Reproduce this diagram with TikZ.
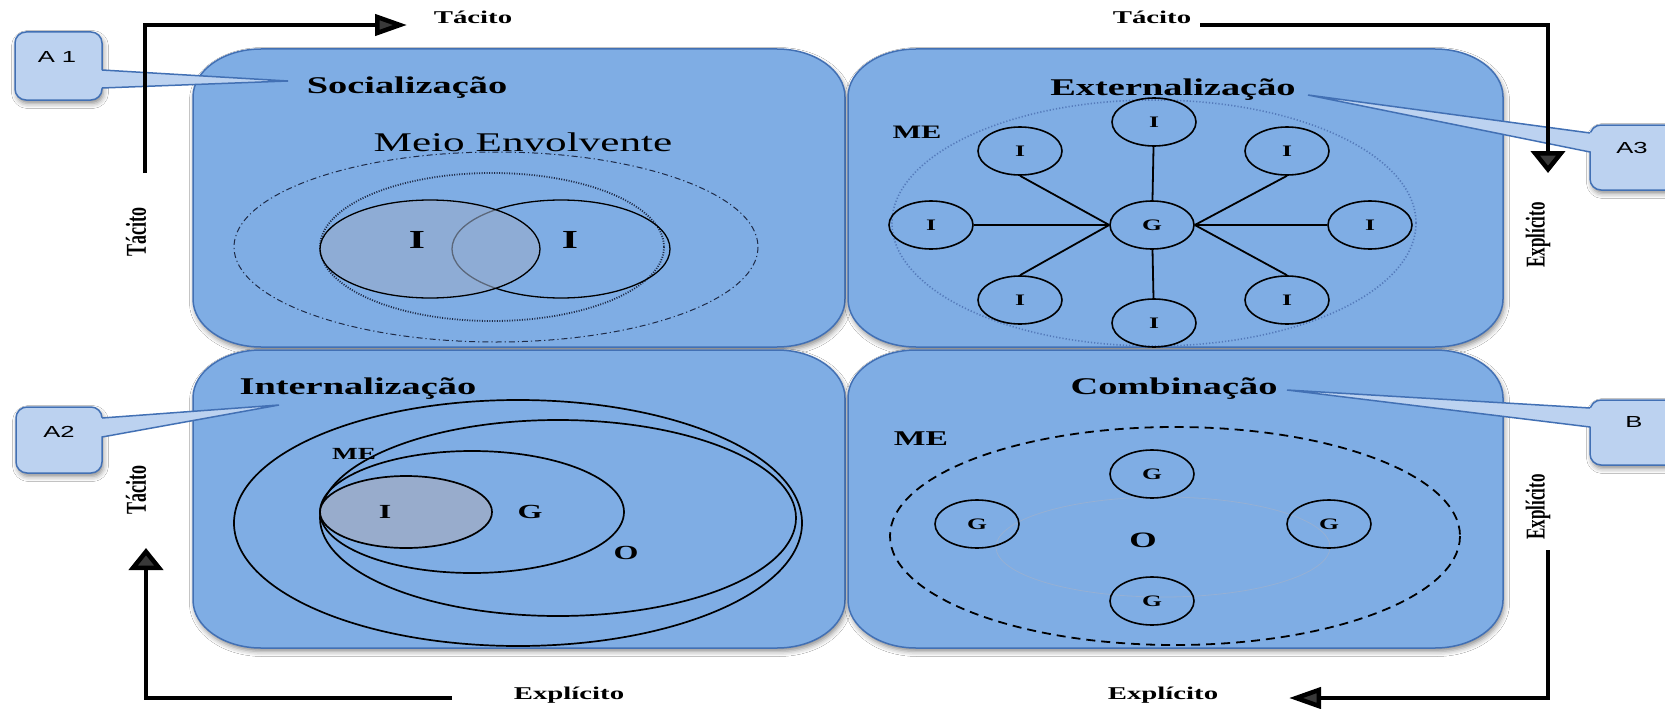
\documentclass[tikz,border=0pt]{standalone}
\usepackage{fontspec}
\setmainfont{Liberation Serif}
\newfontfamily\calloutfont{Liberation Sans}
\usepackage{graphicx}
\usetikzlibrary{arrows.meta,shapes.geometric,shadows.blur}

\definecolor{panelfill}{RGB}{127,173,228}
\definecolor{panelline}{RGB}{66,112,180}
\definecolor{calloutfill}{RGB}{188,210,240}
\definecolor{igray}{RGB}{152,172,204}
\definecolor{medot}{RGB}{84,122,186}
\definecolor{oline}{RGB}{150,176,212}
\definecolor{navy}{RGB}{30,42,70}

% horizontally widened text
\newcommand\sx[1]{\scalebox{1.6}[1]{#1}}
\newcommand\fsz[1]{\fontsize{#1}{#1}\selectfont}
% rounded quadrant with elliptic corners
\newcommand\rx{68}
\newcommand\ry{48}
\newcommand\panel[4]{%
  \path[panel,pshadow] (#1,#2+\ry)
    arc[start angle=180,end angle=270,x radius=\rx,y radius=\ry] -- (#3-\rx,#2)
    arc[start angle=270,end angle=360,x radius=\rx,y radius=\ry] -- (#3,#4-\ry)
    arc[start angle=0,end angle=90,x radius=\rx,y radius=\ry] -- (#1+\rx,#4)
    arc[start angle=90,end angle=180,x radius=\rx,y radius=\ry] -- cycle;}

\begin{document}
\begin{tikzpicture}[x=1pt,y=-1pt,
  panel/.style={fill=panelfill,draw=panelline,line width=1.5pt},
  pshadow/.style={blur shadow={shadow xshift=1.5pt,shadow yshift=-3.5pt,shadow blur radius=5pt,shadow opacity=45}},
  callout/.style={fill=calloutfill,draw=panelline,line width=1.5pt,rounded corners=11pt},
  wedge/.style={fill=calloutfill},
  wedgeline/.style={draw=panelline,line width=1.5pt},
  flowline/.style={line width=4.5pt,line join=miter},
  hhead/.style={-{Triangle[length=32pt,width=21pt]}},
  vhead/.style={-{Triangle[length=22pt,width=34pt]}},
  title/.style={font=\fsz{24}\bfseries,inner sep=0pt},
  axislabel/.style={font=\fsz{18}\bfseries,inner sep=0pt},
  calltext/.style={font=\calloutfont\fsz{16},inner sep=0pt,text=black},
  lbl/.style={font=\bfseries,inner sep=0pt},
  smallc/.style={draw=black,ellipse,line width=1.6pt,minimum width=84pt,minimum height=48pt,inner sep=0pt,font=\fsz{16}\bfseries},
  spoke/.style={line width=1.8pt},
  ring/.style={draw=black,line width=1.7pt}
]
\useasboundingbox (0,0) rectangle (1665,709);
\fill[white] (0,0) rectangle (1665,709);
\clip (0,0) rectangle (1665,709);

% the four quadrants
\panel{193}{49}{845}{347}
\panel{848}{49}{1503}{347}
\panel{193}{350}{845}{648}
\panel{848}{350}{1503}{648}

% ---- Socialização
\draw[navy,line width=1pt,dash pattern=on 6pt off 3pt on 1.2pt off 3pt] (496,247) ellipse [x radius=262,y radius=95];
\draw[navy,line width=1.8pt,dash pattern=on 1pt off 1.5pt] (492,247) ellipse [x radius=172,y radius=74];
\draw[black,line width=1.3pt] (561,249) ellipse [x radius=109,y radius=49];
\draw[black,line width=1.3pt,fill=igray,fill opacity=0.6] (430,249) ellipse [x radius=110,y radius=49];
\node[font=\fsz{27},inner sep=0pt,text=black] (meio) at (523,142) {\sx{Meio Envolvente}};
\node[lbl,font=\fsz{26}\bfseries] (si1) at (417,240) {\sx{I}};
\node[lbl,font=\fsz{26}\bfseries] (si2) at (570,240) {\sx{I}};

% ---- Externalização
\draw[medot,line width=1.6pt,dash pattern=on 1.2pt off 2pt] (1154,223) ellipse [x radius=262,y radius=123];
\node[lbl,font=\fsz{19}\bfseries] (eme) at (917,132) {\sx{ME}};
\node[smallc] (eg) at (1152,225) {\sx{G}};
\node[smallc] (eit) at (1154,122) {\sx{I}};
\node[smallc] (eitl) at (1020,151) {\sx{I}};
\node[smallc] (eitr) at (1287,151) {\sx{I}};
\node[smallc] (eil) at (931,225) {\sx{I}};
\node[smallc] (eir) at (1370,225) {\sx{I}};
\node[smallc] (eibl) at (1020,300) {\sx{I}};
\node[smallc] (eibr) at (1287,300) {\sx{I}};
\node[smallc] (eib) at (1154,323) {\sx{I}};
\draw[spoke] (eit) -- (eg);
\draw[spoke] (eg) -- (eib);
\draw[spoke] (eil) -- (eg.west);
\draw[spoke] (eg.west) -- (eitl.south);
\draw[spoke] (eg.west) -- (eibl.north);
\draw[spoke] (eg.east) -- (eir);
\draw[spoke] (eg.east) -- (eitr.south);
\draw[spoke] (eg.east) -- (eibr.north);

% ---- Internalização
\draw[ring] (518,523) ellipse [x radius=284,y radius=123];
\draw[ring] (558,518) ellipse [x radius=238,y radius=98];
\draw[ring] (472,512) ellipse [x radius=152,y radius=61];
\draw[ring,fill=igray] (406,512) ellipse [x radius=86,y radius=36];
\node[lbl,font=\fsz{17}\bfseries] (ime) at (354,454) {\sx{ME}};
\node[lbl,font=\fsz{20}\bfseries] (ii) at (385,512) {\sx{I}};
\node[lbl,font=\fsz{20}\bfseries] (ig) at (530,512) {\sx{G}};
\node[lbl,font=\fsz{20}\bfseries] (io) at (626,553) {\sx{O}};

% ---- Combinação
\draw[black,line width=1.8pt,dash pattern=on 9pt off 6pt] (1175,536) ellipse [x radius=285,y radius=109];
\draw[oline,line width=0.8pt] (1163,547) ellipse [x radius=167,y radius=50];
\node[smallc] (cgt) at (1152,474) {\sx{G}};
\node[smallc] (cgl) at (977,524) {\sx{G}};
\node[smallc] (cgr) at (1329,524) {\sx{G}};
\node[smallc] (cgb) at (1152,601) {\sx{G}};
\node[lbl,font=\fsz{22}\bfseries] (co) at (1143,540) {\sx{O}};
\node[lbl,font=\fsz{21}\bfseries] (cme) at (921,439) {\sx{ME}};

% ---- callouts
\path[callout,pshadow] (15,32) rectangle (102,100);
\fill[wedge] (98,70) -- (288,81) -- (98,88) -- cycle;
\draw[wedgeline] (102,70) -- (288,81) -- (102,88);
\node[calltext] (a1) at (57,57) {\sx{A 1}};

\path[callout,pshadow] (16,407) rectangle (102,473);
\fill[wedge] (98,418) -- (279,405) -- (98,437) -- cycle;
\draw[wedgeline] (102,418) -- (279,405) -- (102,437);
\node[calltext] (a2) at (59,432) {\sx{A2}};

\path[callout,pshadow] (1590,125) rectangle (1710,190);
\fill[wedge] (1594,133) -- (1308,95) -- (1594,152) -- cycle;
\draw[wedgeline] (1590,133) -- (1308,95) -- (1590,152);
\node[calltext] (a3) at (1632,148) {\sx{A3}};

\path[callout,pshadow] (1590,400) rectangle (1710,465);
\fill[wedge] (1594,408) -- (1287,390) -- (1594,427) -- cycle;
\draw[wedgeline] (1590,408) -- (1287,390) -- (1590,427);
\node[calltext] (cb) at (1634,422) {\sx{B}};

% ---- quadrant titles
\node[title] (soc) at (407,88) {\sx{Socialização}};
\node[title] (ext) at (1173,90) {\sx{Externalização}};
\node[title] (int) at (358,389) {\sx{Internalização}};
\node[title] (com) at (1174,389) {\sx{Combinação}};

% ---- cycle arrows and their labels
\node[axislabel] (tt1) at (473,17) {\sx{Tácito}};
\node[axislabel] (tt2) at (1152,17) {\sx{Tácito}};
\node[axislabel] (eb1) at (569,695) {\sx{Explícito}};
\node[axislabel] (eb2) at (1163,695) {\sx{Explícito}};
\node[inner sep=0pt] (tl1) at (136,232) {\sx{\rotatebox{90}{\fsz{18}\bfseries Tácito}}};
\node[inner sep=0pt] (tl2) at (136,490) {\sx{\rotatebox{90}{\fsz{18}\bfseries Tácito}}};
\node[inner sep=0pt] (er1) at (1538,235) {\sx{\rotatebox{90}{\fsz{17}\bfseries Explícito}}};
\node[inner sep=0pt] (er2) at (1538,507) {\sx{\rotatebox{90}{\fsz{17}\bfseries Explícito}}};

\coordinate (p1a) at (145,173); \coordinate (p1b) at (145,25); \coordinate (p1c) at (407,25);
\coordinate (p2a) at (1200,25); \coordinate (p2b) at (1548,25); \coordinate (p2c) at (1548,173);
\coordinate (p3a) at (1548,550); \coordinate (p3b) at (1548,698); \coordinate (p3c) at (1289,698);
\coordinate (p4a) at (452,698); \coordinate (p4b) at (146,698); \coordinate (p4c) at (146,548);
\draw[flowline,hhead] (p1a) -- (p1b) -- (p1c);
\draw[flowline,vhead] (p2a) -- (p2b) -- (p2c);
\draw[flowline,hhead] (p3a) -- (p3b) -- (p3c);
\draw[flowline,vhead] (p4a) -- (p4b) -- (p4c);
\end{tikzpicture}
\end{document}
